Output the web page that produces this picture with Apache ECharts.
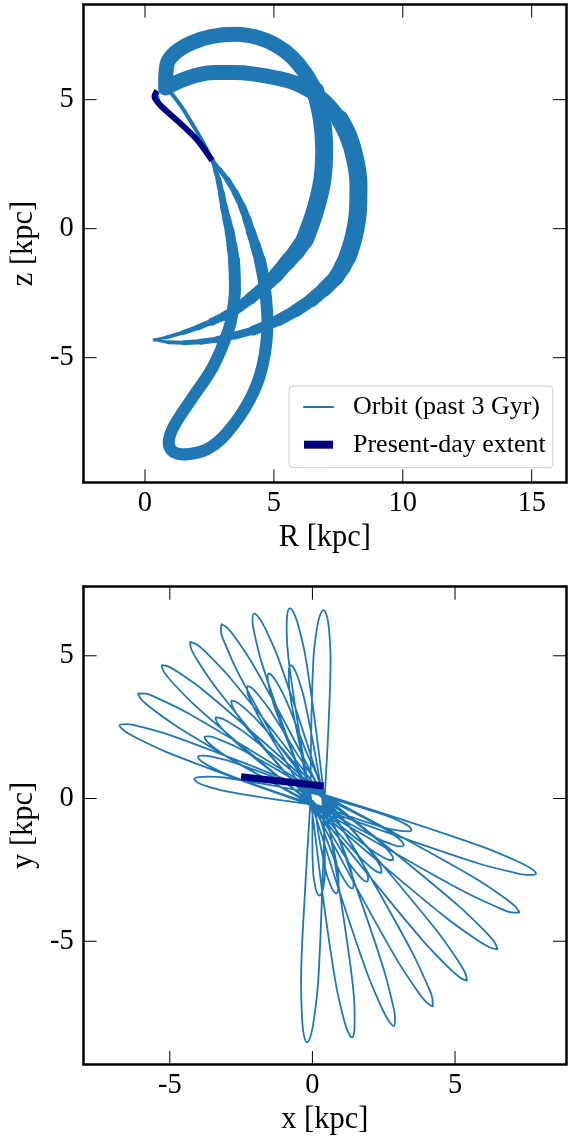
<!DOCTYPE html>
<html><head><meta charset="utf-8">
<script src="https://cdn.jsdelivr.net/npm/echarts@6.0.0/dist/echarts.min.js"></script>
<style>html,body{margin:0;padding:0;background:#fff}#c{width:572px;height:1138px}</style>
</head><body><div id="c"></div><script>
// ---------- tick labels ----------
const rTicks = [0, 5, 10, 15];
const zTicks = [-5, 0, 5];
const xTicks = [-5, 0, 5];
const yTicks = [-5, 0, 5];

// ---------- meridional (R, z) orbit bands, kpc ----------
const rzArcA = [[0.80,5.60],[0.85,6.35],[1.15,6.80],[1.80,7.20],[2.60,7.45],[3.50,7.53],[4.40,7.40],[5.10,7.10],[5.70,6.65],[6.20,6.05],[6.60,5.35],
  [6.85,4.30],[6.95,3.10],[6.88,1.90],[6.60,0.70],[6.19,-0.44],[5.85,-0.92],[5.48,-1.34],[5.07,-1.82],[4.62,-2.25],[4.07,-2.72],[3.49,-3.15],
  [3.05,-3.40],[2.60,-3.60],[2.05,-3.83],[1.50,-4.02],[0.80,-4.22],[0.36,-4.31]];
const rzArcB = [[0.80,5.45],[1.30,5.70],[1.90,5.92],[2.70,6.05],[3.50,6.05],[4.30,5.98],[5.05,5.85],[5.80,5.65],[6.40,5.35],[7.00,4.90],[7.55,4.25],
  [7.90,3.55],[8.15,2.70],[8.28,1.70],[8.26,0.70],[8.10,-0.30],[7.85,-1.10],[7.65,-1.50],[7.40,-1.90],[6.95,-2.35],[6.47,-2.76],[5.85,-3.18],
  [5.19,-3.54],[4.70,-3.75],[4.20,-3.95],[3.50,-4.14],[2.80,-4.30],[2.15,-4.38],[1.50,-4.42],[0.90,-4.40],[0.36,-4.31]];
const rzLoopRight = [[0.45,5.25],[0.60,4.80],[1.37,4.08],[2.02,3.44],[2.62,2.64],[2.90,2.28],[3.20,1.89],[3.50,1.40],[3.77,0.85],[3.95,0.38],
  [4.10,-0.10],[4.28,-0.65],[4.45,-1.20],[4.65,-2.30],[4.75,-3.67],[4.55,-5.35],[4.06,-6.64],[3.15,-7.95],[2.40,-8.55],[1.55,-8.75]];
const rzLoopLeft = [[0.85,5.45],[1.40,4.75],[1.82,4.08],[2.25,3.35],[2.62,2.64],[2.73,2.27],[2.85,1.90],[2.96,1.38],[3.06,0.85],[3.17,0.37],
  [3.28,-0.10],[3.37,-0.65],[3.45,-1.20],[3.49,-2.30],[3.40,-3.20],[3.25,-3.90],[2.64,-5.35],[1.78,-6.64],[1.10,-7.70],[0.92,-8.30],[1.10,-8.65],[1.55,-8.75]];
const rzPresent = [[0.47,5.35],[0.37,5.12],[0.59,4.79],[1.37,4.08],[2.02,3.44],[2.60,2.64]];

// ---------- x-y orbit (rosette), kpc: petal loops, each from centre out to its tip and back ----------
const xyPetalsUL = [
  [[0.425,-0.057],[0.566,2.601],[0.637,4.929],[0.581,5.929],[0.506,6.397],[0.39,6.60],[0.262,6.405],[0.157,5.941],[0.039,4.947],[-0.038,2.619],[-0.065,-0.043]],
  [[0.422,-0.015],[0.091,2.678],[-0.253,5.026],[-0.483,6.02],[-0.64,6.477],[-0.79,6.66],[-0.882,6.441],[-0.903,5.958],[-0.843,4.94],[-0.507,2.59],[-0.062,-0.085]],
  [[0.412,0.029],[-0.426,2.659],[-1.21,4.944],[-1.626,5.895],[-1.867,6.323],[-2.05,6.48],[-2.099,6.245],[-2.028,5.759],[-1.776,4.752],[-0.998,2.465],[-0.052,-0.129]],
  [[0.394,0.068],[-0.907,2.559],[-2.094,4.714],[-2.676,5.596],[-2.992,5.984],[-3.20,6.11],[-3.206,5.866],[-3.048,5.392],[-2.616,4.426],[-1.437,2.269],[-0.034,-0.168]],
  [[0.37,0.104],[-1.373,2.356],[-2.941,4.293],[-3.678,5.069],[-4.061,5.401],[-4.29,5.49],[-4.251,5.247],[-4.008,4.803],[-3.405,3.917],[-1.843,1.976],[-0.01,-0.204]],
  [[0.34,0.135],[-1.811,2.066],[-3.728,3.716],[-4.604,4.358],[-5.046,4.62],[-5.29,4.67],[-5.206,4.436],[-4.882,4.038],[-4.118,3.264],[-2.205,1.61],[0.02,-0.235]],
  [[0.305,0.161],[-2.185,1.702],[-4.392,3.005],[-5.381,3.49],[-5.868,3.673],[-6.12,3.68],[-5.994,3.463],[-5.599,3.124],[-4.698,2.491],[-2.495,1.182],[0.055,-0.261]],
  [[0.266,0.179],[-2.489,1.281],[-4.92,2.195],[-5.991,2.507],[-6.509,2.606],[-6.76,2.57],[-6.595,2.376],[-6.141,2.109],[-5.13,1.635],[-2.703,0.715],[0.094,-0.279]],
  [[0.367,-0.013],[0.035,1.884],[-0.297,3.536],[-0.504,4.23],[-0.638,4.547],[-0.76,4.67],[-0.826,4.509],[-0.828,4.166],[-0.753,3.444],[-0.427,1.792],[-0.007,-0.087]],
  [[0.357,0.019],[-0.285,1.807],[-0.886,3.357],[-1.205,3.997],[-1.39,4.281],[-1.53,4.38],[-1.568,4.213],[-1.513,3.877],[-1.32,3.189],[-0.723,1.637],[0.003,-0.119]],
  [[0.342,0.05],[-0.604,1.669],[-1.467,3.065],[-1.894,3.628],[-2.125,3.87],[-2.28,3.94],[-2.287,3.77],[-2.174,3.454],[-1.863,2.821],[-1.004,1.423],[0.018,-0.15]],
  [[0.324,0.075],[-0.85,1.497],[-1.909,2.713],[-2.413,3.191],[-2.677,3.389],[-2.84,3.43],[-2.821,3.263],[-2.663,2.973],[-2.261,2.407],[-1.206,1.187],[0.036,-0.175]],
  [[0.3,0.098],[-1.104,1.289],[-2.359,2.299],[-2.938,2.68],[-3.233,2.827],[-3.40,2.84],[-3.353,2.679],[-3.146,2.422],[-2.651,1.937],[-1.4,0.923],[0.06,-0.198]],
  [[0.272,0.116],[-1.29,1.039],[-2.677,1.811],[-3.304,2.083],[-3.615,2.177],[-3.78,2.16],[-3.707,2.011],[-3.464,1.795],[-2.903,1.405],[-1.518,0.629],[0.088,-0.216]],
  [[0.245,0.13],[-1.416,0.776],[-2.884,1.302],[-3.535,1.465],[-3.852,1.505],[-4.01,1.46],[-3.916,1.325],[-3.647,1.153],[-3.042,0.864],[-1.576,0.332],[0.115,-0.23]],
  [[0.212,0.138],[-1.509,0.474],[-3.021,0.727],[-3.68,0.77],[-3.994,0.752],[-4.14,0.68],[-4.026,0.564],[-3.736,0.444],[-3.099,0.269],[-1.587,0.01],[0.148,-0.238]]
];
const xyPetalsLR = [
  [[-0.065,-0.039],[-0.27,-3.433],[-0.397,-6.405],[-0.365,-7.682],[-0.301,-8.28],[-0.19,-8.54],[-0.057,-8.29],[0.059,-7.7],[0.201,-6.431],[0.334,-3.459],[0.425,-0.061]],
  [[-0.062,-0.085],[0.365,-3.422],[0.793,-6.333],[1.059,-7.569],[1.233,-8.138],[1.39,-8.37],[1.475,-8.102],[1.479,-7.507],[1.383,-6.247],[0.963,-3.334],[0.422,-0.015]],
  [[-0.052,-0.129],[0.966,-3.315],[1.907,-6.086],[2.391,-7.246],[2.664,-7.771],[2.86,-7.97],[2.896,-7.693],[2.793,-7.11],[2.473,-5.894],[1.538,-3.121],[0.412,0.029]],
  [[-0.034,-0.169],[1.532,-3.093],[2.949,-5.625],[3.631,-6.669],[3.992,-7.133],[4.22,-7.29],[4.206,-7.013],[4.001,-6.463],[3.471,-5.335],[2.06,-2.799],[0.394,0.069]],
  [[-0.008,-0.206],[2.043,-2.775],[3.88,-4.989],[4.733,-5.883],[5.169,-6.268],[5.42,-6.38],[5.357,-6.112],[5.059,-5.611],[4.34,-4.607],[2.509,-2.389],[0.368,0.106]],
  [[0.024,-0.238],[2.511,-2.375],[4.722,-4.203],[5.723,-4.92],[6.223,-5.217],[6.49,-5.28],[6.379,-5.029],[5.995,-4.594],[5.104,-3.743],[2.897,-1.909],[0.336,0.138]],
  [[0.061,-0.264],[2.865,-1.894],[5.345,-3.274],[6.449,-3.79],[6.988,-3.989],[7.26,-4.0],[7.108,-3.775],[6.655,-3.42],[5.635,-2.752],[3.159,-1.366],[0.299,0.164]],
  [[0.102,-0.282],[3.147,-1.372],[5.83,-2.276],[7.006,-2.582],[7.571,-2.678],[7.84,-2.64],[7.649,-2.446],[7.142,-2.18],[6.02,-1.71],[3.341,-0.8],[0.258,0.182]],
  [[0.01,-0.053],[-0.002,-1.394],[0.025,-2.567],[0.095,-3.068],[0.163,-3.302],[0.25,-3.40],[0.333,-3.298],[0.391,-3.062],[0.441,-2.559],[0.418,-1.386],[0.35,-0.047]],
  [[0.013,-0.083],[0.238,-1.399],[0.472,-2.544],[0.629,-3.022],[0.737,-3.239],[0.84,-3.32],[0.903,-3.205],[0.919,-2.964],[0.878,-2.462],[0.65,-1.317],[0.347,-0.017]],
  [[0.022,-0.113],[0.472,-1.367],[0.902,-2.451],[1.141,-2.894],[1.284,-3.088],[1.40,-3.15],[1.442,-3.026],[1.415,-2.786],[1.288,-2.299],[0.864,-1.213],[0.338,0.013]],
  [[0.035,-0.139],[0.701,-1.304],[1.316,-2.304],[1.629,-2.701],[1.806,-2.869],[1.93,-2.91],[1.95,-2.779],[1.881,-2.547],[1.67,-2.086],[1.059,-1.084],[0.325,0.039]],
  [[0.052,-0.162],[0.918,-1.209],[1.704,-2.1],[2.085,-2.442],[2.289,-2.58],[2.42,-2.60],[2.417,-2.468],[2.307,-2.248],[2.016,-1.826],[1.234,-0.931],[0.308,0.062]],
  [[0.075,-0.183],[1.11,-1.055],[2.039,-1.788],[2.474,-2.056],[2.698,-2.154],[2.83,-2.15],[2.804,-2.02],[2.656,-1.824],[2.297,-1.462],[1.37,-0.725],[0.285,0.083]],
  [[0.1,-0.2],[1.29,-0.876],[2.348,-1.433],[2.829,-1.62],[3.069,-1.677],[3.20,-1.65],[3.149,-1.527],[2.967,-1.36],[2.542,-1.067],[1.486,-0.504],[0.26,0.1]],
  [[0.128,-0.212],[1.432,-0.67],[2.585,-1.036],[3.096,-1.135],[3.345,-1.15],[3.47,-1.10],[3.397,-0.988],[3.186,-0.855],[2.711,-0.64],[1.56,-0.27],[0.232,0.112]]
];
const xyPresent = [[-2.50,0.76],[0.39,0.44]];

// ---------- build ----------
const xyPath = [];
for (let k = 0; k < xyPetalsUL.length; k++) {
  xyPath.push(...xyPetalsUL[k], ...xyPetalsLR[k]);
}

const BLUE = '#1f77b4', NAVY = '#000080', FONT = 'Liberation Serif';
const ORBIT = 'Orbit (past 3 Gyr)', PRESENT = 'Present-day extent';
const TICK_LEN = 13;

// band drawn in pieces of slowly changing stroke width: [fromIndex, toIndex, width]
function band(data, pieces) {
  return pieces.map(function (pc) {
    return { type: 'line', name: ORBIT, xAxisIndex: 0, yAxisIndex: 0, data: data.slice(pc[0], pc[1] + 1),
      symbol: 'none', smooth: 0.4, silent: true, z: 2,
      lineStyle: { color: BLUE, width: pc[2], cap: 'round', join: 'round' } };
  });
}
function steps(from, widths) { return widths.map(function (w, i) { return [from + i, from + i + 1, w]; }); }

function axisPair(gi, min, max, ticks, name, isX) {
  const line = { show: true, onZero: false, lineStyle: { color: '#000', width: 2.5, cap: 'square' } };
  const common = { type: 'value', gridIndex: gi, min: min, max: max, splitLine: { show: false }, axisLine: line, axisTick: { show: false } };
  const main = Object.assign({}, common, {
    position: isX ? 'bottom' : 'left',
    axisLabel: { customValues: ticks, fontSize: 28.5, fontFamily: FONT, color: '#000', margin: isX ? 7 : 10 },
    name: name, nameLocation: 'middle', nameGap: isX ? 40 : 42,
    nameTextStyle: { fontSize: 30.5, fontFamily: FONT, color: '#000' } });
  const sec = Object.assign({}, common, { position: isX ? 'top' : 'right', axisLabel: { show: false } });
  return [main, sec];
}
// inward ticks on all four sides, placed through the axis scales
function tickMarks(gi, values, isX) {
  return { type: 'custom', xAxisIndex: gi * 2, yAxisIndex: gi * 2, silent: true, clip: false, z: 6,
    data: values.map(function (v) { return isX ? [v, 0] : [0, v]; }),
    renderItem: function (params, api) {
      const cs = params.coordSys;
      const pt = api.coord([api.value(0), api.value(1)]);
      const st = { stroke: '#000', lineWidth: 1 };
      if (isX) {
        const yb = cs.y + cs.height, yt = cs.y;
        return { type: 'group', children: [
          { type: 'line', shape: { x1: pt[0], y1: yb, x2: pt[0], y2: yb - TICK_LEN }, style: st },
          { type: 'line', shape: { x1: pt[0], y1: yt, x2: pt[0], y2: yt + TICK_LEN }, style: st } ] };
      }
      const xl = cs.x, xr = cs.x + cs.width;
      return { type: 'group', children: [
        { type: 'line', shape: { x1: xl, y1: pt[1], x2: xl + TICK_LEN, y2: pt[1] }, style: st },
        { type: 'line', shape: { x1: xr, y1: pt[1], x2: xr - TICK_LEN, y2: pt[1] }, style: st } ] };
    } };
}

const chart = echarts.init(document.getElementById('c'), null, { renderer: 'canvas' });
const option = {
  animation: false,
  backgroundColor: '#fff',
  grid: [
    { left: 83.3, top: 4.7, width: 482.7, height: 477.6 },
    { left: 83.3, top: 586.7, width: 482.7, height: 477.3 }
  ],
  xAxis: [].concat(axisPair(0, -2.38, 16.33, rTicks, 'R [kpc]', true), axisPair(1, -8.02, 8.89, xTicks, 'x [kpc]', true)),
  yAxis: [].concat(axisPair(0, -9.83, 8.68, zTicks, 'z [kpc]', false), axisPair(1, -9.30, 7.42, yTicks, 'y [kpc]', false)),
  legend: {
    data: [
      { name: ORBIT, lineStyle: { width: 2, color: BLUE }, itemStyle: { opacity: 0 } },
      { name: PRESENT, lineStyle: { width: 8, color: NAVY, cap: 'butt' }, itemStyle: { opacity: 0 } }
    ],
    orient: 'vertical', left: 289, top: 386, itemWidth: 29, itemHeight: 14, itemGap: 11.7,
    padding: [8, 7, 10, 11], borderColor: '#cccccc', borderWidth: 1, borderRadius: 4,
    backgroundColor: 'rgba(255,255,255,0.8)', selectedMode: false,
    textStyle: { fontSize: 26, fontFamily: FONT, color: '#000', padding: [0, 0, 0, 15] }
  },
  series: [].concat(
    band(rzArcA, [[0,10,15],[10,15,18]].concat(steps(15, [17,16,15,14,12,11,9,8,6,5,4,3]))),
    band(rzArcB, [[0,10,15],[10,16,18]].concat(steps(16, [17,16,15,14,13,12,11,10,8,7,6,5,4,3]))),
    band(rzLoopRight, [[0,4,4]].concat(steps(4, [4,5,6,7,8,9,10,11]), [[12,19,12]])),
    band(rzLoopLeft, [[0,4,4]].concat(steps(4, [4,5,6,7,8,9,10,11]), [[12,21,12]])),
    [
      { type: 'line', name: PRESENT, xAxisIndex: 0, yAxisIndex: 0, data: rzPresent, symbol: 'none', smooth: 0.3,
        silent: true, z: 3, lineStyle: { color: NAVY, width: 6, cap: 'butt', join: 'round' } },
      { type: 'line', name: 'xy orbit', xAxisIndex: 2, yAxisIndex: 2, data: xyPath, symbol: 'none', smooth: 0.35,
        silent: true, z: 2, lineStyle: { color: BLUE, width: 1.8 } },
      { type: 'line', name: PRESENT, xAxisIndex: 2, yAxisIndex: 2, data: xyPresent, symbol: 'none',
        silent: true, z: 3, lineStyle: { color: NAVY, width: 7, cap: 'butt' } },
      tickMarks(0, rTicks, true), tickMarks(0, zTicks, false),
      tickMarks(1, xTicks, true), tickMarks(1, yTicks, false)
    ])
};
chart.setOption(option);
</script></body></html>
